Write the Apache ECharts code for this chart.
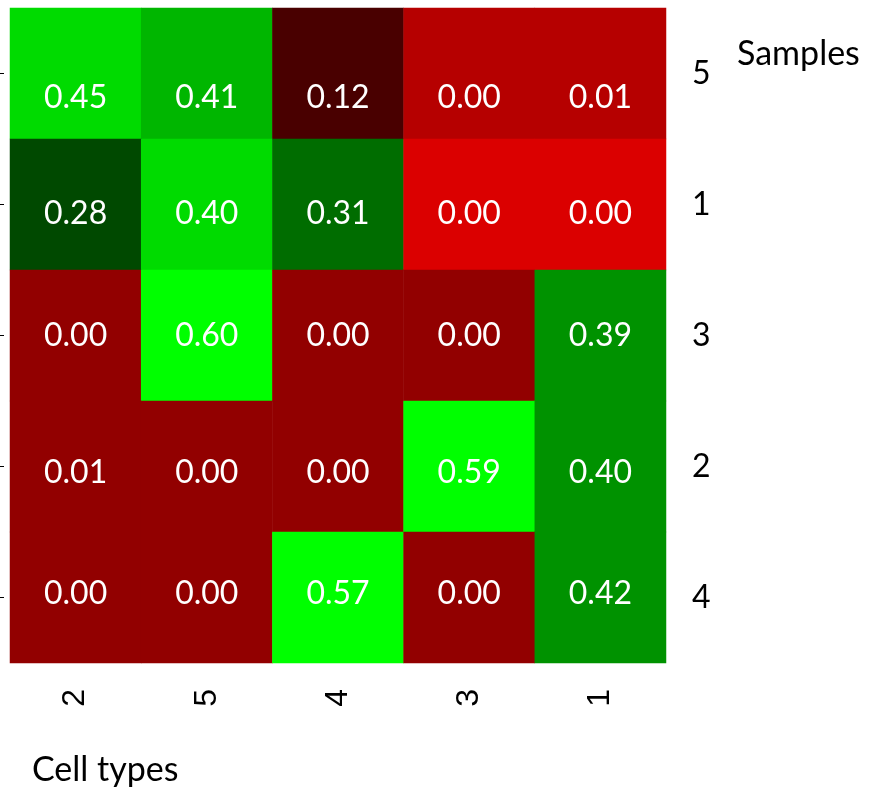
<!DOCTYPE html>
<html>
<head>
<meta charset="utf-8">
<style>
  html, body { margin: 0; padding: 0; background: #ffffff; }
  #chart { width: 873px; height: 792px; }
</style>
<script src="https://cdn.jsdelivr.net/npm/echarts@6/dist/echarts.min.js"></script>
</head>
<body>
<div id="chart"></div>
<script>
// ---- data ----
const cellTypes = ['2', '5', '4', '3', '1'];
const samples = ['5', '1', '3', '2', '4'];
const sample5 = [0.45, 0.41, 0.12, 0.00, 0.01];
const sample1 = [0.28, 0.40, 0.31, 0.00, 0.00];
const sample3 = [0.00, 0.60, 0.00, 0.00, 0.39];
const sample2 = [0.01, 0.00, 0.00, 0.59, 0.40];
const sample4 = [0.00, 0.00, 0.57, 0.00, 0.42];
const rows = [sample5, sample1, sample3, sample2, sample4];

// ---- style constants ----
const labelShiftY = [24, 9, 0, 6, -4];
const binWidth = 0.185;
const nBins = 15;

// row z-scores (row-scaled heatmap)
function rowZ(row) {
  const n = row.length;
  const mean = row.reduce((a, b) => a + b, 0) / n;
  const sd = Math.sqrt(row.reduce((a, b) => a + (b - mean) * (b - mean), 0) / (n - 1));
  return row.map(v => (v - mean) / sd);
}

const data = [];
rows.forEach((row, r) => {
  const z = rowZ(row);
  row.forEach((v, c) => {
    data.push({ value: [c, r, z[c], v], label: { offset: [0, labelShiftY[r]] } });
  });
});

// red - black - green panel with 15 steps
const half = (nBins - 1) / 2;
const pieces = [];
for (let i = 0; i < nBins; i++) {
  const k = i - half;
  const lvl = Math.round(255 * Math.abs(k) / half);
  const color = k < 0 ? `rgb(${lvl},0,0)` : `rgb(0,${lvl},0)`;
  const lower = -nBins / 2 * binWidth + i * binWidth;
  const upper = lower + binWidth;
  const p = { color };
  if (i > 0) p.gte = lower;
  if (i < nBins - 1) p.lt = upper;
  pieces.push(p);
}

const chart = echarts.init(document.getElementById('chart'), null, { renderer: 'canvas' });
chart.setOption({
  backgroundColor: '#ffffff',
  animation: false,
  grid: { left: 10, right: 207, top: 8, bottom: 129, containLabel: false },
  xAxis: {
    type: 'category',
    data: cellTypes,
    position: 'bottom',
    axisLine: { show: false },
    axisTick: { show: false },
    splitLine: { show: false },
    axisLabel: {
      rotate: 90,
      margin: 26,
      padding: [0, 0, 24, 0],
      fontFamily: 'Liberation Sans',
      fontSize: 32,
      color: '#000000'
    }
  },
  yAxis: [
    {
      type: 'category',
      data: samples,
      inverse: true,
      position: 'right',
      axisLine: { show: false },
      axisTick: { show: false },
      splitLine: { show: false },
      axisLabel: {
        margin: 26,
        fontFamily: 'Lato',
        fontSize: 32,
        color: '#000000'
      }
    },
    {
      type: 'category',
      data: samples,
      inverse: true,
      position: 'left',
      offset: 6,
      axisLine: { show: false },
      axisTick: { show: true, length: 4, alignWithLabel: true, lineStyle: { color: '#000000', width: 1 } },
      splitLine: { show: false },
      axisLabel: { show: false }
    }
  ],
  visualMap: {
    type: 'piecewise',
    show: false,
    dimension: 2,
    pieces: pieces
  },
  series: [{
    type: 'heatmap',
    xAxisIndex: 0,
    yAxisIndex: 0,
    data: data,
    itemStyle: { borderWidth: 0 },
    emphasis: { disabled: true },
    label: {
      show: true,
      color: '#ffffff',
      fontFamily: 'Lato',
      fontSize: 32,
      formatter: p => p.value[3].toFixed(2)
    }
  }],
  graphic: [
    {
      type: 'text',
      style: { text: 'Samples', x: 737, y: 54, font: '34px Lato', fill: '#000000', textVerticalAlign: 'middle' }
    },
    {
      type: 'text',
      style: { text: 'Cell types', x: 32, y: 770, font: '34px Lato', fill: '#000000', textVerticalAlign: 'middle' }
    }
  ]
});
</script>
</body>
</html>
